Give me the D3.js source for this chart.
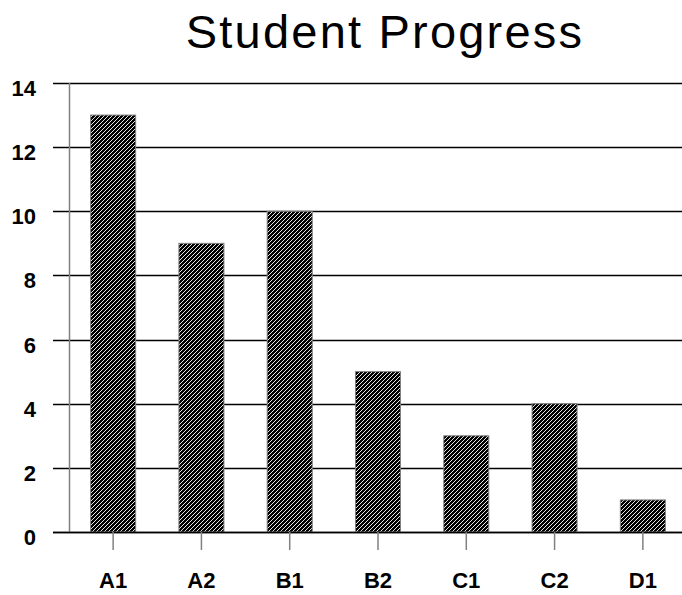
<!DOCTYPE html>
<html lang="en">
<head>
<script src="https://d3js.org/d3.v7.min.js"></script>
<style>
  body { margin: 0; background: #fff; }
  svg text { font-family: Arial, "Liberation Sans", sans-serif; fill: #000; }
</style>
</head>
<body>
<svg id="chart" width="682" height="595"></svg>
<script>
var categories = ["A1", "A2", "B1", "B2", "C1", "C2", "D1"]
var values     = [13, 9, 10, 5, 3, 4, 1]
var yTicks     = [0, 2, 4, 6, 8, 10, 12, 14]
var title      = "Student Progress"

var plotLeft = 69, plotRight = 687, plotTop = 83, plotBottom = 532

var svg = d3.select("#chart")

var defs = svg.append("defs")
var pat = defs.append("pattern")
    .attr("id", "hatch")
    .attr("patternUnits", "userSpaceOnUse")
    .attr("width", 4).attr("height", 4)
pat.append("rect").attr("width", 4).attr("height", 4).attr("fill", "#000")
pat.append("path")
    .attr("d", "M-1,1 l2,-2 M0,4 l4,-4 M3,5 l2,-2")
    .attr("stroke", "#fff").attr("stroke-width", 0.9)

var x = d3.scaleBand()
    .domain(categories)
    .range([plotLeft, plotRight])
    .paddingInner(0.49)
    .paddingOuter(0.245)

var y = d3.scaleLinear()
    .domain([0, 14])
    .range([plotBottom, plotTop])

// title
svg.append("text")
    .attr("x", 385).attr("y", 48)
    .attr("text-anchor", "middle")
    .attr("font-size", 47)
    .attr("letter-spacing", 2.2)
    .text(title)

// gridlines
svg.append("g").selectAll("line")
    .data(yTicks)
    .enter().append("line")
    .attr("x1", 53).attr("x2", 682)
    .attr("y1", d => Math.round(y(d)) + 0.5).attr("y2", d => Math.round(y(d)) + 0.5)
    .attr("stroke", "#000").attr("stroke-width", 1.5)

// y labels
svg.append("g").selectAll("text")
    .data(yTicks)
    .enter().append("text")
    .attr("x", 36).attr("y", d => y(d) + 13)
    .attr("text-anchor", "end")
    .attr("font-size", 22).attr("font-weight", "bold")
    .text(d => d)

// y axis line
svg.append("line")
    .attr("x1", plotLeft + 0.5).attr("x2", plotLeft + 0.5)
    .attr("y1", y(14)).attr("y2", y(0))
    .attr("stroke", "#808080").attr("stroke-width", 1.5)

// bars
svg.append("g").selectAll("rect")
    .data(values)
    .enter().append("rect")
    .attr("x", (d, i) => x(categories[i]))
    .attr("y", d => y(d))
    .attr("width", x.bandwidth())
    .attr("height", d => y(0) - y(d))
    .attr("fill", "url(#hatch)")
    .attr("stroke", "#808080").attr("stroke-width", 1)

// zero line on top
svg.append("line")
    .attr("x1", 53).attr("x2", 682)
    .attr("y1", Math.round(y(0)) + 0.5).attr("y2", Math.round(y(0)) + 0.5)
    .attr("stroke", "#000").attr("stroke-width", 1.5)

// x ticks and labels
var xg = svg.append("g").selectAll("g")
    .data(categories)
    .enter().append("g")
    .attr("transform", d => "translate(" + (x(d) + x.bandwidth() / 2) + ",0)")
xg.append("line")
    .attr("y1", y(0)).attr("y2", y(0) + 18)
    .attr("stroke", "#808080").attr("stroke-width", 1.5)
xg.append("text")
    .attr("y", 588)
    .attr("text-anchor", "middle")
    .attr("font-size", 22).attr("font-weight", "bold")
    .text(d => d)
</script>
</body>
</html>
